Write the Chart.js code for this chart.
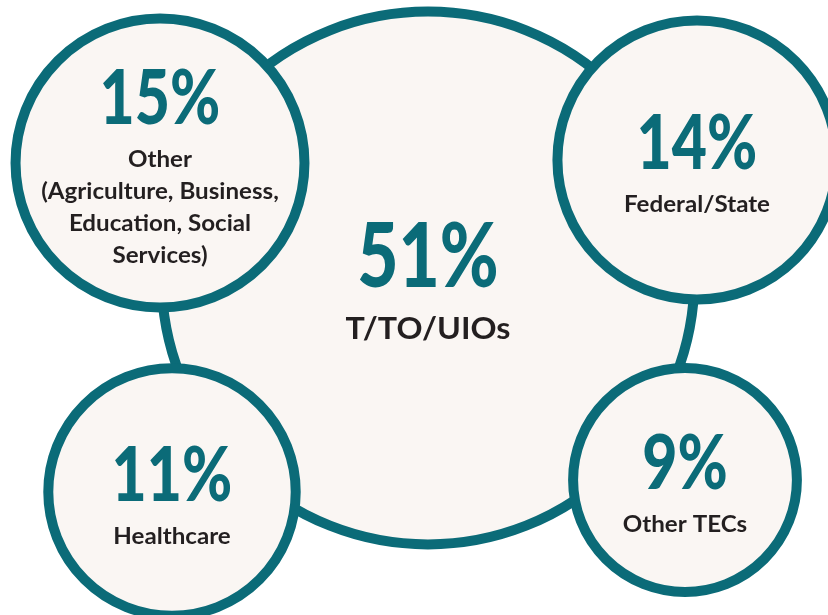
<!DOCTYPE html>
<html>
<head>
<meta charset="utf-8">
<title>Share by organization type</title>
<script src="https://cdn.jsdelivr.net/npm/chart.js@4.4.1/dist/chart.umd.min.js"></script>
<style>
  html,body{margin:0;padding:0;background:#fff;}
  #wrap{width:828px;height:615px;position:relative;}
</style>
</head>
<body>
<div id="wrap"><canvas id="bubbleChart" width="828" height="615"></canvas></div>
<script>
/* ---------- Data ---------- */
const categories = ['T/TO/UIOs', 'Other', 'Federal/State', 'Healthcare', 'Other TECs'];
const subLabels  = [[], ['(Agriculture, Business,', 'Education, Social', 'Services)'], [], [], []];
const shares     = [51, 15, 14, 11, 9];

/* ---------- Layout (bubble centres, in canvas units) ---------- */
const bubbleX = [428, 160, 697, 172, 685];
const bubbleY = [278, 163, 160, 492, 480];

const TEAL = '#0b6b78', CREAM = '#faf6f3', INK = '#231f20';
const FONT = 'Lato, "Open Sans", sans-serif';

/* ---------- Labels inside the bubbles ---------- */
const bubbleText = {
  id: 'bubbleText',
  afterDatasetsDraw(chart){
    const ctx = chart.ctx;
    const meta = chart.getDatasetMeta(0);
    meta.data.forEach((el, i) => {
      const big = i === 0;
      const pctCap = big ? 64 : 55, labCap = big ? 22 : 16, gap = big ? 30 : 27, lineH = 32;
      const lines = [categories[i]].concat(subLabels[i]);
      const blockH = pctCap + gap + labCap + (lines.length - 1) * lineH;
      const top = el.y + 3 - blockH / 2;
      ctx.save();
      ctx.textAlign = 'center';
      ctx.textBaseline = 'alphabetic';
      // percentage: heavy, slightly condensed like the original face
      ctx.font = `900 ${Math.round(pctCap / 0.72)}px ${FONT}`;
      ctx.fillStyle = TEAL;
      ctx.save();
      ctx.translate(el.x, top + pctCap);
      ctx.scale(0.8, 1);
      ctx.fillText(shares[i] + '%', 0, 0);
      ctx.restore();
      // category text
      ctx.font = `bold ${big ? 31 : 23}px ${FONT}`;
      ctx.fillStyle = INK;
      lines.forEach((t, j) => {
        ctx.save();
        ctx.translate(el.x, top + pctCap + gap + labCap + j * lineH);
        ctx.scale(big ? 1.04 : 1.05, 1);
        ctx.fillText(t, 0, 0);
        ctx.restore();
      });
      ctx.restore();
    });
  }
};

/* ---------- Chart ---------- */
new Chart(document.getElementById('bubbleChart'), {
  type: 'bubble',
  data: {
    labels: categories,
    datasets: [{
      data: shares.map((v, i) => ({ x: bubbleX[i], y: bubbleY[i], v })),
      radius: c => 37.3 * Math.sqrt(c.raw.v),   // area ~ share
      backgroundColor: CREAM,
      borderColor: TEAL,
      borderWidth: 10,
      hoverRadius: 0,
      clip: false
    }]
  },
  options: {
    responsive: false,
    animation: false,
    events: [],
    layout: { padding: 0, autoPadding: false },
    plugins: { legend: { display: false }, tooltip: { enabled: false } },
    scales: {
      x: { type: 'linear', min: 0, max: 828, display: false },
      y: { type: 'linear', min: 0, max: 615, reverse: true, display: false }
    }
  },
  plugins: [bubbleText]
});
</script>
</body>
</html>
